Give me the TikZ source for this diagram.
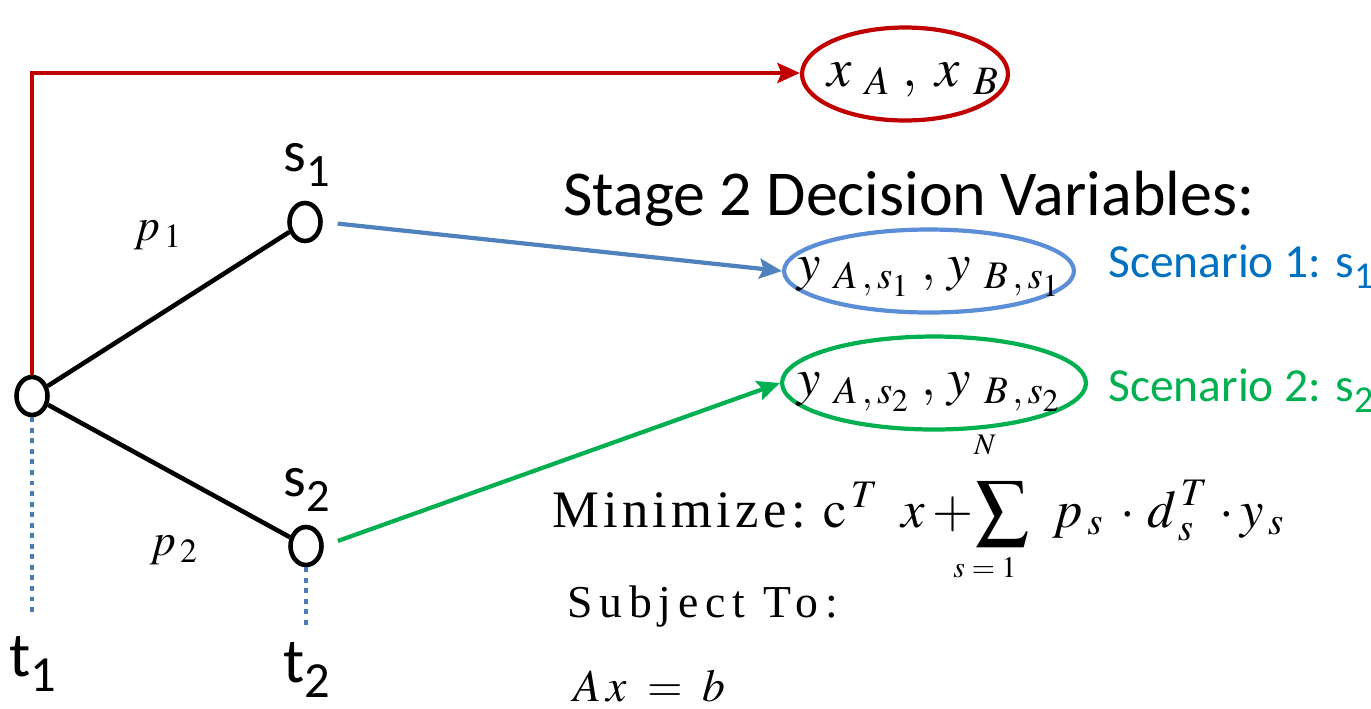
\documentclass[tikz,border=0pt]{standalone}
\usepackage{mathptmx}
\usepackage[no-math]{fontspec}
\usepackage{graphicx}
\setmainfont{Liberation Serif}
\newfontfamily\calibri{Carlito}
\usetikzlibrary{arrows.meta}
\usetikzlibrary{shapes.geometric}

\definecolor{treered}{HTML}{C00000}
\definecolor{arrowblue}{HTML}{4F81BD}
\definecolor{ringblue}{HTML}{5B8ED6}
\definecolor{textblue}{HTML}{0070C0}
\definecolor{stagegreen}{HTML}{00B050}
\definecolor{dotblue}{HTML}{4A7EBB}

\newcommand{\lowsub}[1]{\raisebox{-0.25em}{\scalebox{0.8}{#1}}}

\begin{document}
\begin{tikzpicture}[x=0.02cm, y=-0.02cm,
  stnode/.style={draw, ellipse, line width=2.6pt, minimum width=0.62cm, minimum height=0.76cm, inner sep=0pt},
  link/.style={line width=2.6pt},
  timeline/.style={line width=2.8pt, dotblue, dash pattern=on 2.8pt off 3.2pt},
  varset/.style={draw, ellipse, line width=2.4pt, inner sep=0pt},
  arr/.style={line width=2.4pt, -{Stealth[length=0.45cm, width=0.4cm, inset=0.08cm]}},
  lbl/.style={font=\calibri\fontsize{33}{33}\selectfont, inner sep=0pt},
  mathlbl/.style={font=\fontsize{26}{26}\selectfont, inner sep=0pt},
  limlbl/.style={font=\fontsize{17}{17}\selectfont, inner sep=0pt}
]
\useasboundingbox (0,0) rectangle (1371,708);

% scenario tree
\node[stnode] (root) at (32,396) {};
\node[stnode] (s1) at (305,222) {};
\node[stnode] (s2) at (306,546) {};
\draw[link] (root) -- (s1);
\draw[link] (root) -- (s2);
\node[lbl] (s1lab) at (307,165) {s\lowsub{1}};
\node[lbl] (s2lab) at (307,490) {s\lowsub{2}};
\node[mathlbl] (p1lab) at (158,235) {$p_{\,1}$};
\node[mathlbl] (p2lab) at (174,550) {$p_{\,2}$};

% time stages
\coordinate (t1end) at (32,612);
\coordinate (t2end) at (306,628);
\draw[timeline] (root.south) -- (t1end);
\draw[timeline] (s2.south) -- (t2end);
\node[lbl, font=\calibri\fontsize{36}{36}\selectfont] (t1lab) at (33,664) {t\lowsub{1}};
\node[lbl, font=\calibri\fontsize{36}{36}\selectfont] (t2lab) at (307,670) {t\lowsub{2}};

% stage 1 variables
\node[varset, treered, minimum width=4.12cm, minimum height=1.86cm] (xvars) at (905,74) {};
\node[mathlbl, font=\fontsize{31}{31}\selectfont, anchor=west] (xtxt) at (827,80) {$x_{\;\,A}\;{,}\;\,x_{\;\,B}$};
\coordinate (corner) at (32,73);
\draw[arr, treered] (root.north) -- (corner) -- (corner -| xvars.west);

% stage 2 variables
\node[lbl, font=\calibri\fontsize{36.4}{36.4}\selectfont, anchor=base west] (stage) at (563,215) {Stage 2 Decision Variables:};
\node[varset, ringblue, minimum width=5.8cm, minimum height=1.66cm] (yone) at (929,271) {};
\node[varset, stagegreen, minimum width=6.08cm, minimum height=1.86cm] (ytwo) at (934,383) {};
\node[mathlbl, font=\fontsize{30}{30}\selectfont, anchor=west] (y1txt) at (797,277) {$y_{\;\,A\,,\,s_1}\;{,}\;y_{\;\,B\,,\,s_1}$};
\node[mathlbl, font=\fontsize{30}{30}\selectfont, anchor=west] (y2txt) at (797,392) {$y_{\;\,A\,,\,s_2}\;{,}\;y_{\;\,B\,,\,s_2}$};
\draw[arr, arrowblue, shorten <=0.3cm] (s1.east) -- (yone.west);
\draw[arr, stagegreen, shorten <=0.3cm] (s2.east) -- (ytwo.west);
\node[lbl, font=\calibri\fontsize{27}{27}\selectfont, textblue, anchor=base west] (sc1) at (1108,277) {Scenario 1: s\lowsub{1}};
\node[lbl, font=\calibri\fontsize{27}{27}\selectfont, stagegreen, anchor=base west] (sc2) at (1108,401) {Scenario 2: s\lowsub{2}};

% model
\node[mathlbl, font=\fontsize{30}{30}\selectfont, anchor=base west] (obj) at (552,527)
  {{\addfontfeature{LetterSpace=8}Minimize:} $\mathrm{c}^{\,T}\;\;x+\!\displaystyle\sum\;\,p_{\,s}\;\,{\cdot}\;d_{\,s}^{\,T}\;{\cdot}\,y_{\,s}$};
\node[limlbl] (sumtop) at (985,445) {$N$};
\node[limlbl] (sumbot) at (985,568) {$s=1$};
\node[mathlbl, anchor=base west] (subj) at (567,617) {\addfontfeature{LetterSpace=15}Subject To:};
\node[mathlbl, anchor=base west] (cons) at (573,701) {$A\,x\;=\;b$};
\end{tikzpicture}
\end{document}
